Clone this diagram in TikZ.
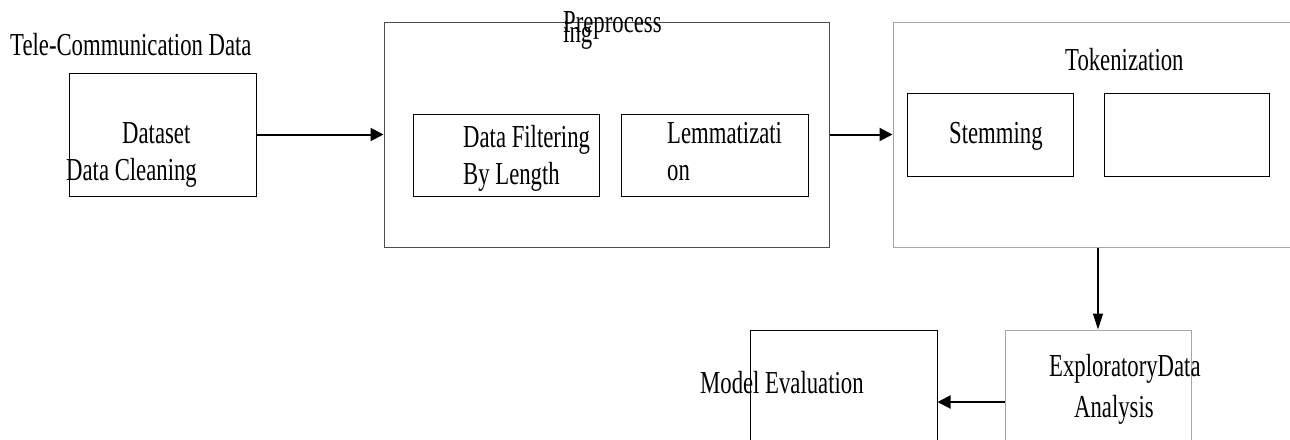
\documentclass[tikz,border=0pt]{standalone}
\usepackage{fontspec}
\setmainfont[FakeStretch=0.71]{Liberation Serif}
\usetikzlibrary{arrows.meta}

\tikzset{
  box/.style={draw=black,line width=1pt,inner sep=0pt},
  greybox/.style={box,draw=black!35},
  darkbox/.style={box,draw=black!70},
  txt/.style={inner sep=0pt,anchor=base west},
  flow/.style={line width=2pt,-{Triangle[length=13pt,width=13pt]}},
}

\begin{document}
\begin{tikzpicture}[x=1pt,y=-1pt,font=\fontsize{32}{38}\selectfont]
\useasboundingbox (0,0) rectangle (1290,439);
% stage boxes:
\node[box,minimum width=187pt,minimum height=123pt] (dataset) at (162.5,134.5) {};
\node[darkbox,minimum width=445pt,minimum height=225pt] (prep) at (606.5,134.5) {};
\node[box,minimum width=186pt,minimum height=82pt] (filt) at (506,155) {};
\node[box,minimum width=187pt,minimum height=82pt] (lemma) at (714.5,155) {};
\node[greybox,minimum width=407pt,minimum height=225pt] (tok) at (1096.5,134.5) {};
\node[box,minimum width=166pt,minimum height=83pt] (stem) at (990,134.5) {};
\node[box,minimum width=165pt,minimum height=83pt] (empty) at (1186.5,134.5) {};
\node[box,minimum width=187pt,minimum height=144pt] (model) at (843.5,402) {};
\node[greybox,minimum width=186pt,minimum height=144pt] (eda) at (1098,402) {};
% texts:
\node[txt] (telecom) at (10,55) {Tele-Communication Data};
\node[txt] (datasettxt) at (122,143) {Dataset};
\node[txt] (cleantxt) at (66,180) {Data Cleaning};
\node[txt] (preptxt) at (563,32) {Preprocess};
\node[txt] (preptxtb) at (563,42) {ing};
\node[txt] (filttxt) at (463,147) {Data Filtering};
\node[txt] (filttxtb) at (463,184) {By Length};
\node[txt] (lemmatxt) at (667,143) {Lemmatizati};
\node[txt] (lemmatxtb) at (667,180) {on};
\node[txt] (toktxt) at (1065,70) {Tokenization};
\node[txt] (stemtxt) at (949,143) {Stemming};
\node[txt] (modeltxt) at (700,393) {Model Evaluation};
\node[txt] (edatxt) at (1049,376) {ExploratoryData};
\node[txt] (edatxtb) at (1074,417) {Analysis};
% connectors:
\draw[flow] (dataset.east) -- (prep.west);
\draw[flow] (prep.east) -- (tok.west);
\draw[flow,line width=1.5pt,-{Triangle[length=16pt,width=10pt]}] (eda.north |- tok.south) -- (eda.north);
\draw[flow] (eda.west) -- (model.east);
\end{tikzpicture}
\end{document}
